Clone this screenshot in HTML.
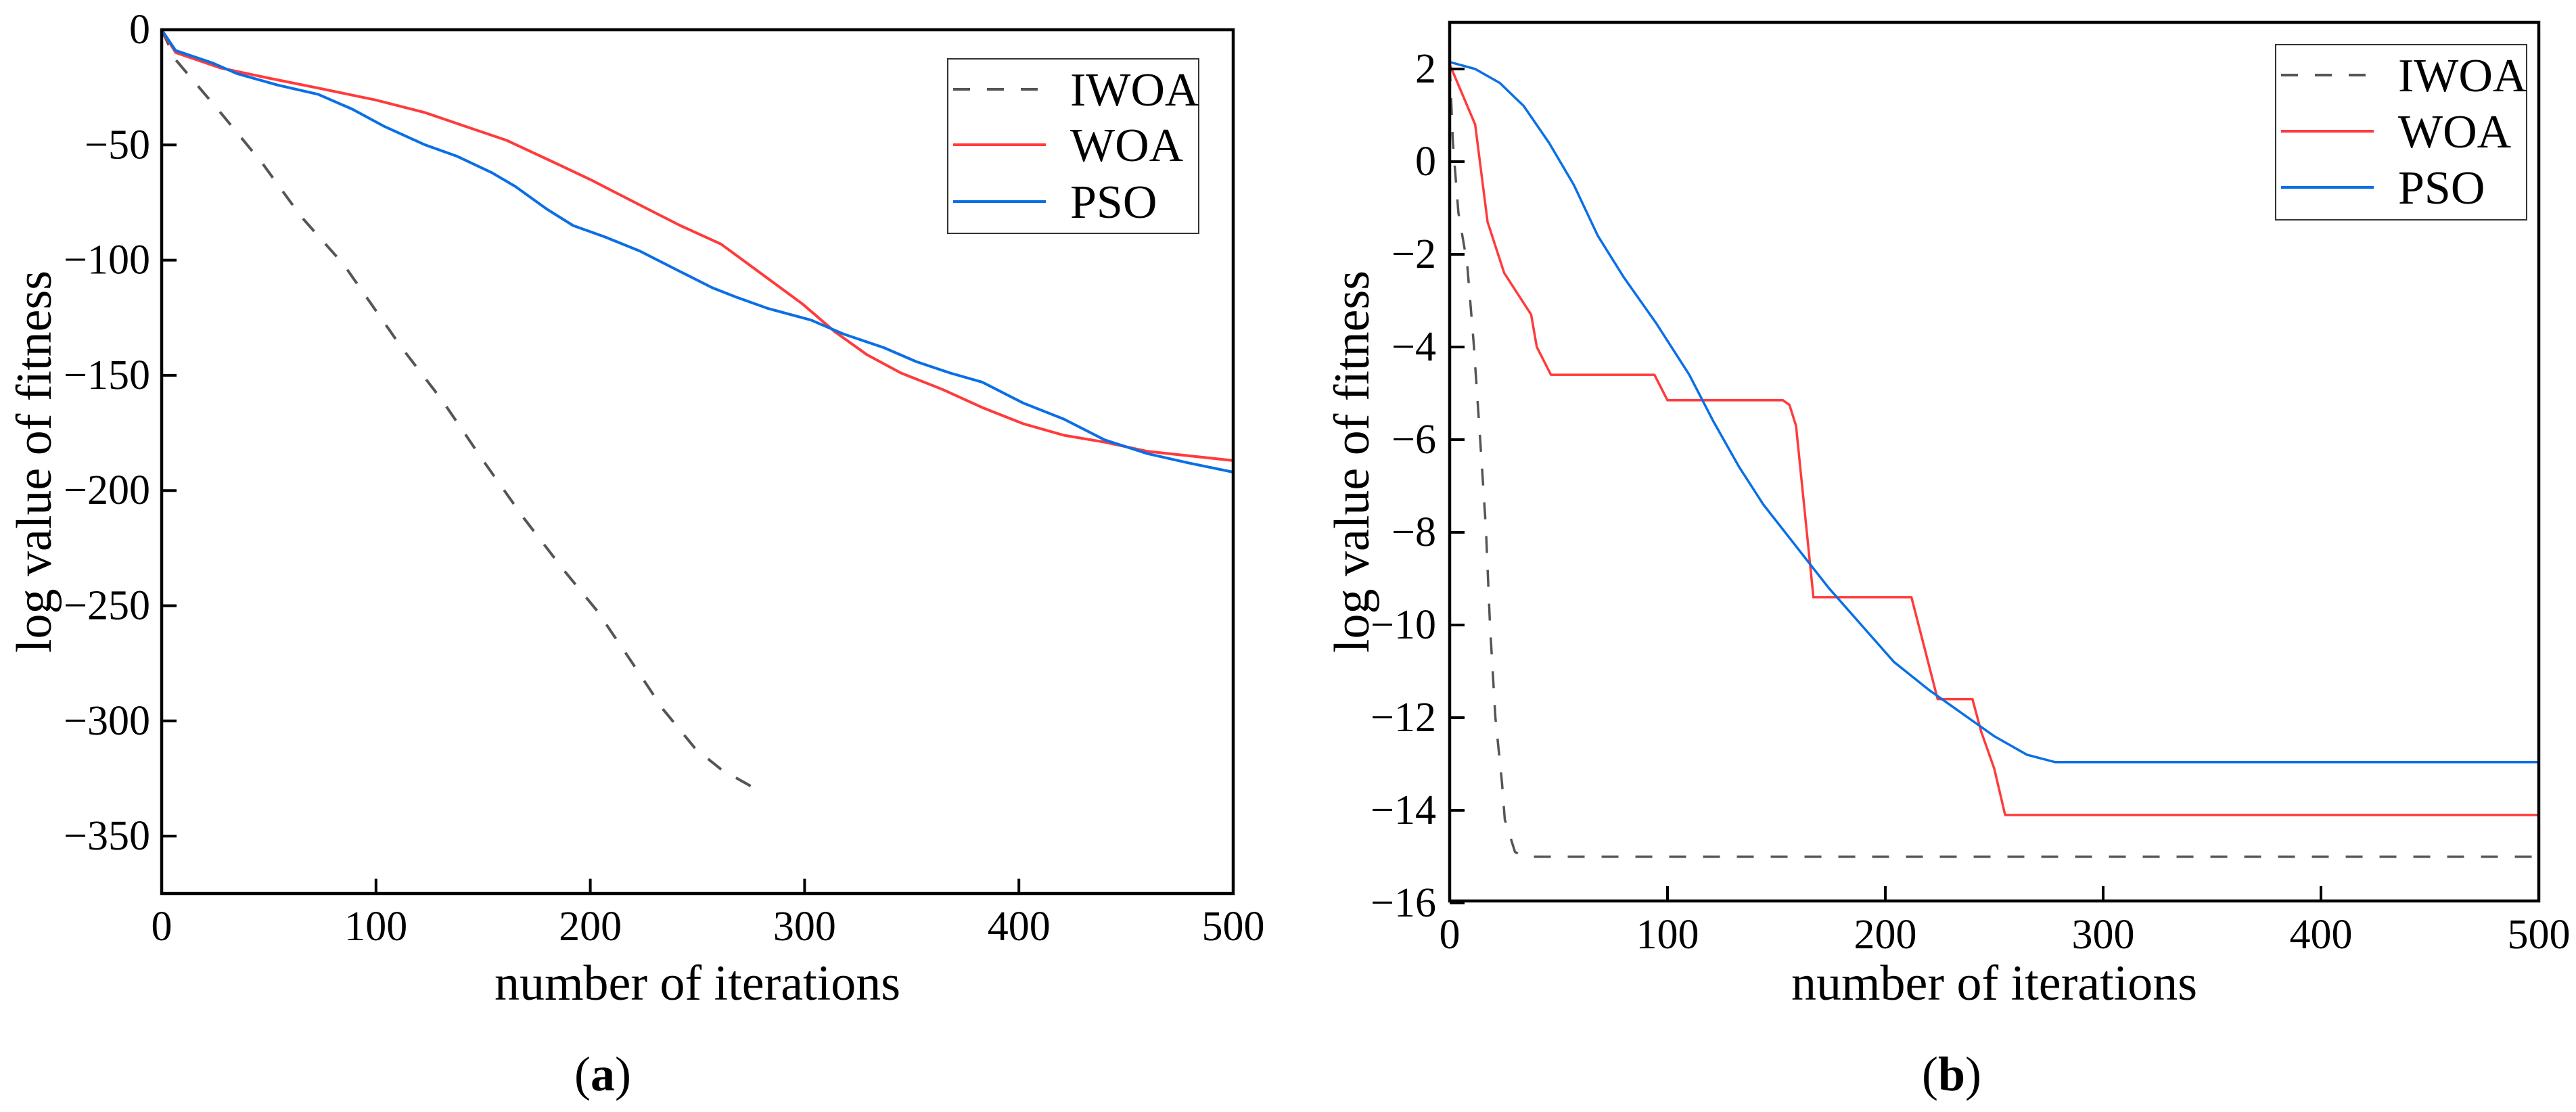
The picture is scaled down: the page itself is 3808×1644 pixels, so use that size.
<!DOCTYPE html>
<html><head><meta charset="utf-8"><style>
html,body{margin:0;padding:0;background:#fff;}
svg{display:block;}
svg text{font-family:"Liberation Serif","DejaVu Serif",serif !important;}
</style></head><body>
<svg id="fig" width="3808" height="1644" viewBox="0 0 3808 1644" xmlns="http://www.w3.org/2000/svg"></svg>
<script>
// ---- Panel (a) data ----
const aIwoaX = [0,6.5,27.5,47,65,85,100,112,131,150,169,188,203,219,234,249,261,280];
const aIwoaY = [0,-13,-36,-58,-81,-102,-122,-138,-161,-187,-212,-235,-252,-274,-295,-312,-321,-331];
const aWoaX = [0,6.5,27.5,50,73,100,123,142,161,184,200,223,242,261,280,299,314,329,345,364,383,402,421,440,460,500];
const aWoaY = [0,-9.9,-16.6,-21,-25.3,-30.5,-36,-42,-48,-58,-65,-76,-85,-93,-106,-119,-131,-141,-149,-156,-164,-171,-176,-179,-183,-187];
const aPsoX = [0,6.5,24,35,54,73,89,104,123,138,154,165,180,192,207,223,242,257,268,283,303,318,337,352,368,383,402,421,440,460,479,500];
const aPsoY = [0,-9,-14.5,-19,-24,-28,-34.5,-42,-50,-55,-62,-68,-78,-85,-90,-96,-105,-112,-116,-121,-126,-132,-138,-144,-149,-153,-162,-169,-178,-184,-188,-192];
const aYTicks = [0,-50,-100,-150,-200,-250,-300,-350];
const xTicks = [0,100,200,300,400,500];
// ---- Panel (b) data ----
const bIwoaX = [0,1.5,4,8,11,14,16.6,18.5,21,24,25.3,30,34,500];
const bIwoaY = [2.1,0.4,-1.1,-2.2,-3.9,-6,-7.9,-10,-12,-13.4,-14.2,-14.9,-15,-15];
const bWoaX = [0,11.7,17.4,25,37.4,40,46.5,68,94,100,153,156,159,167,212,218,224,240,244,250,255,500];
const bWoaY = [2.1,0.8,-1.3,-2.4,-3.3,-4.0,-4.6,-4.6,-4.6,-5.15,-5.15,-5.25,-5.7,-9.4,-9.4,-10.5,-11.6,-11.6,-12.3,-13.1,-14.1,-14.1];
const bPsoX = [0,11.7,23,34,45.7,57,68,80,95,110,121,133,144,159,174,189,204,220,235,250,265,278,500];
const bPsoY = [2.15,2.0,1.7,1.2,0.4,-0.5,-1.6,-2.5,-3.5,-4.6,-5.6,-6.6,-7.4,-8.3,-9.2,-10.0,-10.8,-11.4,-11.9,-12.4,-12.8,-12.96,-12.96];
const bYTicks = [2,0,-2,-4,-6,-8,-10,-12,-14,-16];
const seriesNames = ["IWOA","WOA","PSO"];

const NS="http://www.w3.org/2000/svg";
const svg=document.getElementById('fig');
function mk(tag,attrs,parent,text){const e=document.createElementNS(NS,tag);for(const k in attrs)e.setAttribute(k,attrs[k]);if(tag==='text')e.style.fontFamily='"Liberation Serif","DejaVu Serif",serif';if(text!==undefined)e.textContent=text;(parent||svg).appendChild(e);return e;}
const colors=["#555555","#ff3b3b","#0a6fe6"];
const dashes=["25 25","",""];

function panel(cfg){
  const g=mk('g',{});
  
  
  const sx=v=>cfg.x0+(v-0)/500*(cfg.x1-cfg.x0);
  const sy=v=>cfg.yRefPix+(cfg.yRef-v)*cfg.ppu;
  const sets=[[cfg.iX,cfg.iY],[cfg.wX,cfg.wY],[cfg.pX,cfg.pY]];
  sets.forEach((s,k)=>{
    const pts=s[0].map((x,i)=>sx(x).toFixed(1)+','+sy(s[1][i]).toFixed(1)).join(' ');
    const pl=mk('polyline',{points:pts,fill:'none',stroke:colors[k],'stroke-width':cfg.lw,'stroke-linejoin':'round','stroke-dasharray':dashes[k]||'none'},g);
    
    
  });
  const fr=mk('rect',{x:cfg.x0,y:cfg.top,width:cfg.x1-cfg.x0,height:cfg.bottom-cfg.top,fill:'none',stroke:'#000','stroke-width':4.5},g);
  
  
  xTicks.forEach(t=>{
    const X=sx(t);
    if(t>0&&t<500){const l=mk('line',{x1:X,x2:X,y1:cfg.bottom,y2:cfg.bottom-22,stroke:'#000','stroke-width':4},g);
      
      }
    const tx=mk('text',{x:X,y:cfg.xLabY,'font-size':62,'text-anchor':'middle','dominant-baseline':'central'},g,String(t));
    
    
  });
  cfg.yTicks.forEach(t=>{
    const Y=sy(t);
    const l=mk('line',{x1:cfg.x0,x2:cfg.x0+22,y1:Y,y2:Y,stroke:'#000','stroke-width':4},g);
    
    
    const tx=mk('text',{x:cfg.yLabX,y:Y,'font-size':62,'text-anchor':'end','dominant-baseline':'central'},g,(t<0?'\u2212'+(-t):String(t)));
    
    
  });
  const cy=(cfg.top+cfg.bottom)/2, cx=(cfg.x0+cfg.x1)/2;
  const yt=mk('text',{x:0,y:0,'font-size':74,'text-anchor':'middle',transform:`translate(${cfg.yTitleX},${cy}) rotate(-90)`},g,'log value of fitness');
  
  
  const xt=mk('text',{x:cx,y:1478,'font-size':74,'text-anchor':'middle'},g,'number of iterations');
  
  
  const cap=mk('text',{x:cfg.capX,y:1612,'font-size':72,'text-anchor':'middle'},g);
  
  
  mk('tspan',{},cap,'(');mk('tspan',{'font-weight':'bold'},cap,cfg.letter);mk('tspan',{},cap,')');
  const lg=mk('g',{},g);
  
  
  mk('rect',{x:cfg.lx,y:cfg.ly,width:371,height:cfg.lh,fill:'#fff',stroke:'#333','stroke-width':2},lg);
  seriesNames.forEach((n,k)=>{
    const Y=cfg.lrows[k];
    const e=mk('g',{},lg);
    
    
    mk('line',{x1:cfg.lx+8,x2:cfg.lx+145,y1:Y,y2:Y,stroke:colors[k],'stroke-width':4,'stroke-dasharray':dashes[k]||'none'},e);
    mk('text',{x:cfg.lx+181,y:Y+24,'font-size':70},e,n);
  });
}
panel({id:'panel-a',letter:'a',x0:239,x1:1823,top:44,bottom:1321,yRef:0,yRefPix:44,ppu:3.406,lw:4,
  iX:aIwoaX,iY:aIwoaY,wX:aWoaX,wY:aWoaY,pX:aPsoX,pY:aPsoY,yTicks:aYTicks,yLabX:222,xLabY:1370,yTitleX:75,capX:891,
  lx:1401,ly:87,lh:258,lrows:[132,214,298]});
panel({id:'panel-b',letter:'b',x0:2143,x1:3753,top:33,bottom:1332,yRef:2,yRefPix:102,ppu:68.5,lw:3.5,
  iX:bIwoaX,iY:bIwoaY,wX:bWoaX,wY:bWoaY,pX:bPsoX,pY:bPsoY,yTicks:bYTicks,yLabX:2123,xLabY:1382,yTitleX:2023,capX:2885,
  lx:3364,ly:66,lh:259,lrows:[111,194,277]});
</script>
</body></html>
